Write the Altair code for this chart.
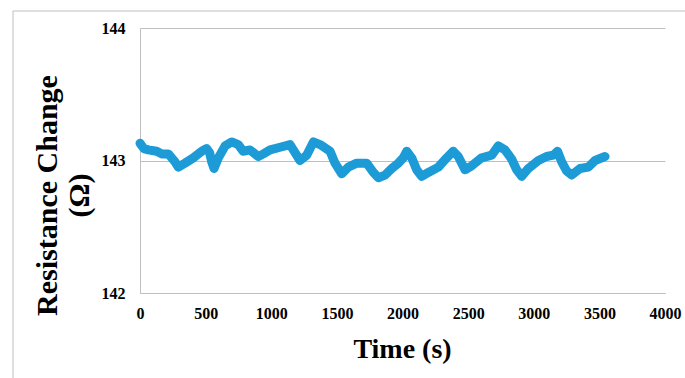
import altair as alt
import pandas as pd

time_s = [0, 30, 63, 127, 165, 216, 267, 292, 343, 406, 470, 508, 530, 546, 564, 597, 648, 699, 749, 785, 838, 901,
          940, 991, 1067, 1143, 1168, 1219, 1270, 1321, 1372, 1448, 1486, 1537, 1587, 1651, 1727, 1778, 1816,
          1867, 1918, 1968, 2006, 2032, 2070, 2108, 2146, 2197, 2273, 2337, 2387, 2425, 2476, 2527, 2603,
          2680, 2730, 2781, 2832, 2870, 2908, 2959, 3035, 3098, 3149, 3181, 3213, 3251, 3289, 3353, 3416,
          3467, 3543]
resistance = [143.13, 143.09, 143.08, 143.07, 143.05, 143.05, 142.99, 142.95, 142.98, 143.02, 143.07, 143.09,
              143.06, 142.99, 142.94, 143.02, 143.11, 143.14, 143.12, 143.07, 143.08, 143.03,
              143.05, 143.08, 143.10, 143.12, 143.08, 143.00, 143.04, 143.14, 143.12, 143.07, 142.98, 142.90,
              142.95, 142.98, 142.98, 142.91, 142.87,
              142.89, 142.94, 142.98, 143.02, 143.07, 143.02, 142.93, 142.88, 142.91, 142.95, 143.02, 143.07,
              143.03, 142.93, 142.96, 143.02,
              143.04, 143.11, 143.08, 143.01, 142.93, 142.88, 142.94, 143.00, 143.03, 143.04, 143.07, 142.99,
              142.92, 142.89, 142.94, 142.95,
              143.00, 143.03]
x_ticks = [0, 500, 1000, 1500, 2000, 2500, 3000, 3500, 4000]
y_ticks = [142, 143, 144]

df = pd.DataFrame({"t": time_s, "r": resistance})

FONT = "Liberation Serif"
GRAY = "#bfbfbf"

line = alt.Chart(df).mark_line(
    color="#1c9bd6", strokeWidth=9, strokeCap="round", strokeJoin="round"
).encode(
    x=alt.X("t:Q", scale=alt.Scale(domain=[0, 4000], nice=False),
            axis=alt.Axis(values=x_ticks, format=".0f", title="Time (s)", grid=False, ticks=False,
                          domainColor=GRAY, labelPadding=12, labelFontSize=16,
                          labelFontWeight="bold", labelFont=FONT, labelColor="black",
                          titleFont=FONT, titleFontSize=28, titleFontWeight="bold",
                          titleColor="black", titleX=262, titleY=64, labelOverlap=False,
                          titleBaseline="alphabetic", titleAnchor="middle", labelFlush=False)),
    y=alt.Y("r:Q", scale=alt.Scale(domain=[142, 144], nice=False, zero=False),
            axis=alt.Axis(values=y_ticks, format=".0f", title=["Resistance Change", "(Ω)"], grid=True,
                          gridColor=GRAY, ticks=False, domainColor=GRAY, labelPadding=15,
                          labelFontSize=16, labelFontWeight="bold", labelFont=FONT,
                          labelColor="black", titleFont=FONT, titleFontSize=30, labelOverlap=False,
                          titleFontWeight="bold", titleColor="black", titleLineHeight=32,
                          titleX=-78, titleY=167, titleAngle=-90, titleAlign="center",
                          titleBaseline="bottom", labelFlush=False)),
)

border = alt.Chart(pd.DataFrame({"a": [0]})).mark_rect(
    fill=None, stroke=GRAY, strokeWidth=1
).encode(
    x=alt.value(-127), x2=alt.value(700), y=alt.value(-17), y2=alt.value(400)
)

chart = alt.layer(border, line).properties(
    width=525, height=265,
    padding={"left": 140, "top": 28, "right": 20, "bottom": 85},
    autosize=alt.AutoSizeParams(type="none"),
).configure_view(stroke=None)

chart.save("out.html", embed_options={"renderer": "svg", "actions": False})
